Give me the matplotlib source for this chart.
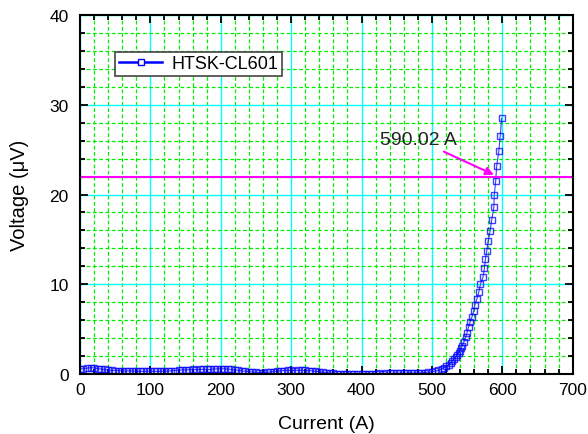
import matplotlib
matplotlib.use("Agg")
import matplotlib.pyplot as plt
from matplotlib.lines import Line2D
from matplotlib.ticker import MultipleLocator

plt.rcParams['font.family'] = ['Liberation Sans', 'DejaVu Sans']

# flat part, read every 5 A
current_low = list(range(0, 505, 5))
voltage_low = [0.55, 0.6, 0.65, 0.7, 0.68, 0.6, 0.55, 0.5, 0.45, 0.4,
               0.38, 0.35, 0.35, 0.33, 0.35, 0.32, 0.3, 0.28, 0.3, 0.3,
               0.32, 0.3, 0.28, 0.3, 0.3, 0.32, 0.35, 0.38, 0.42, 0.45,
               0.45, 0.48, 0.5, 0.48, 0.5, 0.52, 0.5, 0.5, 0.55, 0.58,
               0.6, 0.58, 0.55, 0.5, 0.45, 0.4, 0.35, 0.3, 0.25, 0.2,
               0.18, 0.15, 0.15, 0.18, 0.2, 0.25, 0.3, 0.35, 0.38, 0.4,
               0.4, 0.38, 0.4, 0.42, 0.4, 0.38, 0.35, 0.3, 0.25, 0.2,
               0.15, 0.1, 0.08, 0.05, 0.03, 0.02, 0.0, 0.0, 0.02, 0.03,
               0.02, 0.03, 0.05, 0.05, 0.05, 0.06, 0.05, 0.06, 0.08, 0.07,
               0.08, 0.1, 0.08, 0.1, 0.12, 0.1, 0.12, 0.15, 0.15, 0.2,
               0.25]

# transition
current_high = [504, 509, 513.6, 517, 520.7, 524, 526.8, 529, 531.5, 534,
                535.8, 538, 539.6, 541, 542.8, 545.6, 548, 549.9, 552, 554,
                556.6, 559.5, 561, 564, 566.5, 568.9, 572.6, 574.6, 576, 577.9,
                579.8, 582.6, 585, 588, 588.5, 590.6, 592, 595, 597, 599]
voltage_high = [0.3, 0.4, 0.55, 0.7, 0.85, 1.0, 1.2, 1.45, 1.7, 1.9,
                2.1, 2.35, 2.6, 2.85, 3.1, 3.6, 4.1, 4.6, 5.2, 5.75,
                6.3, 7.05, 7.7, 8.4, 9.1, 10.0, 10.8, 11.8, 12.8, 13.7,
                14.8, 15.9, 17.2, 18.6, 19.9, 21.5, 23.2, 24.8, 26.5, 28.5]

current = current_low + current_high
voltage = voltage_low + voltage_high

criterion = 22
ic_value = 590.02

fig = plt.figure(figsize=(5.88, 4.35), dpi=100)
ax = fig.add_axes([0.136, 0.138, 0.838, 0.825])

ax.plot(current, voltage, color='blue', lw=0.8, marker='s', ms=5,
        mfc='none', mec='blue', mew=1, alpha=0.75)
ax.axhline(criterion, color='magenta', lw=1.5)
ax.annotate(f"{ic_value:.2f} A", xy=(588, 22.2), xytext=(426, 26.1),
            fontsize=14, color='#222222', va='center',
            arrowprops=dict(arrowstyle='-|>', color='magenta', lw=1.5,
                            mutation_scale=12, shrinkA=1, shrinkB=0))

ax.set_xlim(0, 700)
ax.set_ylim(0, 40)
ax.xaxis.set_major_locator(MultipleLocator(100))
ax.xaxis.set_minor_locator(MultipleLocator(20))
ax.yaxis.set_major_locator(MultipleLocator(10))
ax.yaxis.set_minor_locator(MultipleLocator(2))
ax.grid(True, which='major', color='cyan', lw=1, ls='-')
ax.grid(True, which='minor', color='#00ee00', lw=0.9, ls=(0, (3, 2)))
ax.set_axisbelow(True)

ax.tick_params(which='both', direction='in', top=True, right=True,
               labelsize=12.5, width=1.3)
ax.tick_params(which='major', length=6)
ax.tick_params(which='minor', length=3.5)
ax.tick_params(axis='y', pad=8)
ax.tick_params(axis='x', pad=6)
for s in ax.spines.values():
    s.set_linewidth(1.5)

ax.set_xlabel("Current (A)", fontsize=14, labelpad=13)
ax.set_ylabel("Voltage (\u03bcV)", fontsize=14.5, labelpad=15)

handle = Line2D([], [], color='blue', lw=1.8, marker='s', ms=5,
                mfc='white', mec='blue', mew=1)
leg = ax.legend([handle], ['HTSK-CL601'], loc='upper left',
                bbox_to_anchor=(0.072, 0.898), fontsize=13,
                fancybox=False, edgecolor='#444444', framealpha=1,
                handlelength=2.4, handletextpad=0.5, borderpad=0.2,
                borderaxespad=0)
leg.get_frame().set_linewidth(1.2)

fig.savefig("out.png", dpi=100)
